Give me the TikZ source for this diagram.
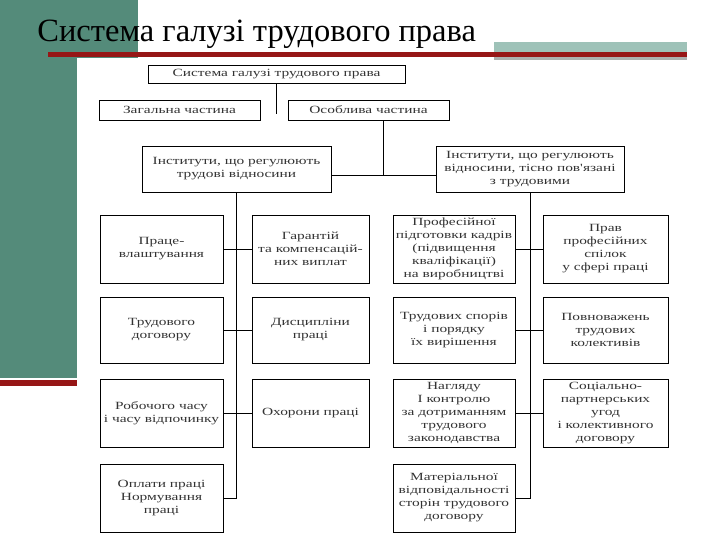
\documentclass[tikz,border=0pt]{standalone}
\usepackage{fontspec}
\setmainfont{Liberation Serif}
\newfontfamily\boxfont[FakeStretch=1.4]{Liberation Serif}
\usetikzlibrary{calc,positioning}
\definecolor{slideteal}{RGB}{84,139,122}
\definecolor{slidered}{RGB}{150,22,22}
\definecolor{slidebar}{RGB}{158,194,184}
\definecolor{slidegray}{RGB}{172,176,174}

\begin{document}
\begin{tikzpicture}[x=1pt, y=-1pt, line width=0.8pt,
    box/.style={draw, align=center, inner sep=0pt, text=black!80,
      font=\boxfont\fontsize{11}{13}\selectfont},
    col/.style={box, minimum width=123pt, minimum height=68pt}]
  \useasboundingbox (0,0) rectangle (720,540);
  % slide background
  \fill[slideteal] (0,0) rectangle (138,58);
  \fill[slideteal] (0,0) rectangle (77,378);
  \fill[slidered] (0,380) rectangle (77,386);
  \fill[slidebar] (494,42) rectangle (687,53);
  \fill[slidegray] (494,56) rectangle (687,60);
  \fill[slidered] (48,52) rectangle (687,57);
  \node[anchor=base west, inner sep=0pt, font=\fontsize{32.5}{36}\selectfont] (title) at (37,42) {Система галузі трудового права};

  % top levels
  \node[box, minimum width=257pt, minimum height=18pt] (sys) at (276.5,74.5) {Система галузі трудового права};
  \node[box, minimum width=161pt, minimum height=20pt] (zag) at (179.5,110) {Загальна частина};
  \node[box, minimum width=161pt, minimum height=20pt] (osob) at (368.5,110) {Особлива частина};
  \node[box, minimum width=189pt, minimum height=46pt] (instL) at (236.5,169) {Інститути, що регулюють\\трудові відносини};
  \node[box, minimum width=188pt, minimum height=46pt] (instR) at (530,169) {Інститути, що регулюють\\відносини, тісно пов'язані\\з трудовими};
  \coordinate (sysend) at (276.5,114);
  \coordinate (bus) at (383,175);
  \draw (sys.south) -- (sysend);
  \draw (osob.south -| bus) -- (bus);
  \draw (instL.east |- bus) -- (instR.west |- bus);

  % left institutes
  \node[col] (praz) at (161.5,249) {Праце-\\влаштування};
  \node[col, minimum width=117pt] (gar) at (310.5,249) {Гарантій\\та компенсацій-\\них виплат};
  \node[col, minimum height=66pt] (tdog) at (161.5,330) {Трудового\\договору};
  \node[col, minimum width=117pt, minimum height=66pt] (disc) at (310.5,330) {Дисципліни\\праці};
  \node[col] (rchas) at (161.5,413) {Робочого часу\\і часу відпочинку};
  \node[col, minimum width=117pt] (ohor) at (310.5,413) {Охорони праці};
  \node[col] (opl) at (161.5,498) {Оплати праці\\Нормування\\праці};
  \draw (praz.east) -- (gar.west);
  \draw (tdog.east) -- (disc.west);
  \draw (rchas.east) -- (ohor.west);
  \draw (instL.south) |- (opl.east);

  % related institutes
  \node[col, minimum width=122pt] (prof) at (454,249) {Професійної\\підготовки кадрів\\(підвищення\\кваліфікації)\\на виробництві};
  \node[col, minimum width=125pt] (spil) at (605.5,249) {Прав\\професійних\\спілок\\у сфері праці};
  \node[col, minimum width=122pt, minimum height=66pt] (spor) at (454,330) {Трудових спорів\\і порядку\\їх вирішення};
  \node[col, minimum width=125pt, minimum height=66pt] (kol) at (605.5,330) {Повноважень\\трудових\\колективів};
  \node[col, minimum width=122pt] (nag) at (454,413) {Нагляду\\І контролю\\за дотриманням\\трудового\\законодавства};
  \node[col, minimum width=125pt] (ugod) at (605.5,413) {Соціально-\\партнерських\\угод\\і колективного\\договору};
  \node[col, minimum width=122pt] (mat) at (454,498) {Матеріальної\\відповідальності\\сторін трудового\\договору};
  \draw (prof.east) -- (spil.west);
  \draw (spor.east) -- (kol.west);
  \draw (nag.east) -- (ugod.west);
  \draw (instR.south) |- (mat.east);
\end{tikzpicture}
\end{document}
